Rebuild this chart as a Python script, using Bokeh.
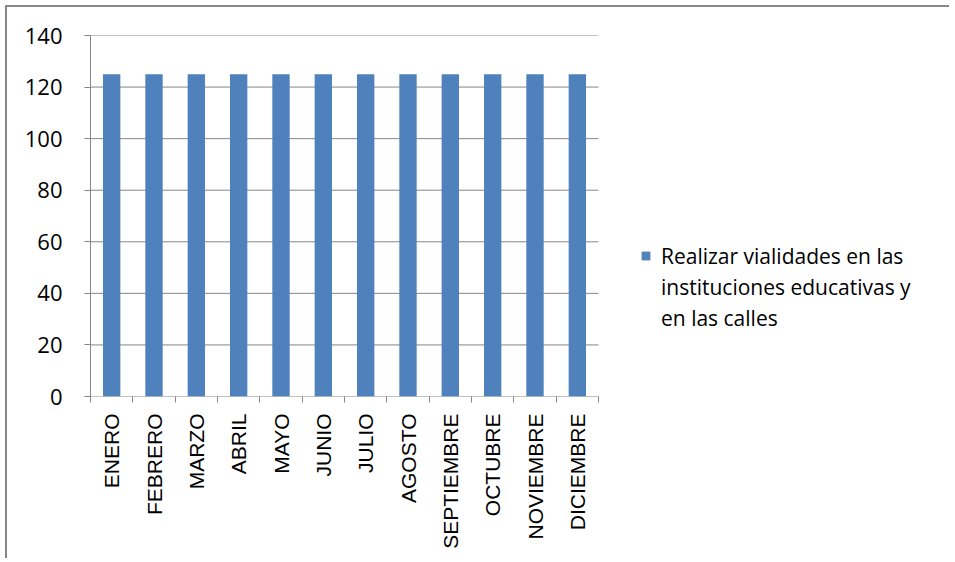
from bokeh.plotting import figure
from bokeh.models import Range1d, LinearAxis, FixedTicker, Legend, LegendItem
from bokeh.embed import file_html
from bokeh.resources import INLINE
from math import pi

months = ["ENERO", "FEBRERO", "MARZO", "ABRIL", "MAYO", "JUNIO", "JULIO", "AGOSTO",
          "SEPTIEMBRE", "OCTUBRE", "NOVIEMBRE", "DICIEMBRE"]
values = [125, 125, 125, 125, 125, 125, 125, 125, 125, 125, 125, 125]
legend_lines = ["Realizar vialidades en las", "instituciones educativas y", "en las calles"]
y_ticks = [0, 20, 40, 60, 80, 100, 120, 140]

GRAY = "#868686"
BLUE = "#4F81BD"

n = len(months)
centers = [i + 0.5 for i in range(n)]
edges = list(range(n + 1))

W, H = 944, 553
LEFT, TOP, BOTTOM = 83, 28, 389
CAT_W = 508                      # pixel width of the category area
FRAME_W = W - LEFT
x_end = n * FRAME_W / CAT_W      # frame extends to the right to host the legend

p = figure(x_range=Range1d(0, x_end), y_range=Range1d(0, 140),
           width=W, height=H, output_backend="svg", toolbar_location=None,
           x_axis_location=None, y_axis_location=None,
           min_border_left=LEFT, min_border_right=0,
           min_border_top=TOP, min_border_bottom=H - BOTTOM)
p.outline_line_color = None
p.xgrid.grid_line_color = None
p.ygrid.grid_line_color = None
p.styles = {"border-top": "2px solid #878787", "border-left": "2px solid #878787",
            "margin-left": "5px", "margin-top": "5px"}

# horizontal gridlines (incl. the category baseline at 0)
p.segment(x0=[0] * len(y_ticks), x1=[n] * len(y_ticks), y0=y_ticks, y1=y_ticks,
          line_color=GRAY, line_width=1)

bars = p.vbar(x=centers, top=values, width=0.41, color=BLUE, line_color=None)
blank1 = p.vbar(x=[], top=[], width=0.41, fill_alpha=0, line_alpha=0)
blank2 = p.vbar(x=[], top=[], width=0.41, fill_alpha=0, line_alpha=0)

yaxis = LinearAxis(ticker=FixedTicker(ticks=y_ticks), axis_line_color=GRAY,
                   major_tick_line_color=GRAY, major_tick_out=6, major_tick_in=0,
                   minor_tick_line_color=None, major_label_standoff=22,
                   major_label_text_font="Open Sans", major_label_text_font_size="22px",
                   major_label_text_color="black")
p.add_layout(yaxis, "left")

tick_axis = LinearAxis(ticker=FixedTicker(ticks=edges),
                       axis_line_color=None, major_tick_line_color=GRAY, major_tick_out=6,
                       major_tick_in=0, minor_tick_line_color=None,
                       major_label_overrides={e: "" for e in edges},
                       major_label_text_font_size="1px", major_label_standoff=0)
p.add_layout(tick_axis, "below")

xaxis = LinearAxis(ticker=FixedTicker(ticks=centers), axis_line_color=None,
                   major_tick_line_color=None, minor_tick_line_color=None,
                   major_label_overrides={c: m for c, m in zip(centers, months)},
                   major_label_orientation=pi / 2, major_label_standoff=5,
                   major_label_text_font="Liberation Sans", major_label_text_font_size="21px",
                   major_label_text_color="black")
p.add_layout(xaxis, "below")

legend = Legend(items=[LegendItem(label=legend_lines[0], renderers=[bars]),
                       LegendItem(label=legend_lines[1], renderers=[blank1]),
                       LegendItem(label=legend_lines[2], renderers=[blank2])],
                location=(550, 63), border_line_color=None, background_fill_alpha=0,
                glyph_width=11, glyph_height=11, label_standoff=10, padding=0, margin=0,
                spacing=0, label_height=31,
                label_text_font="Open Sans", label_text_font_size="21px",
                label_text_color="black")
p.add_layout(legend, "center")

open("out.html", "w").write(file_html(p, INLINE))
